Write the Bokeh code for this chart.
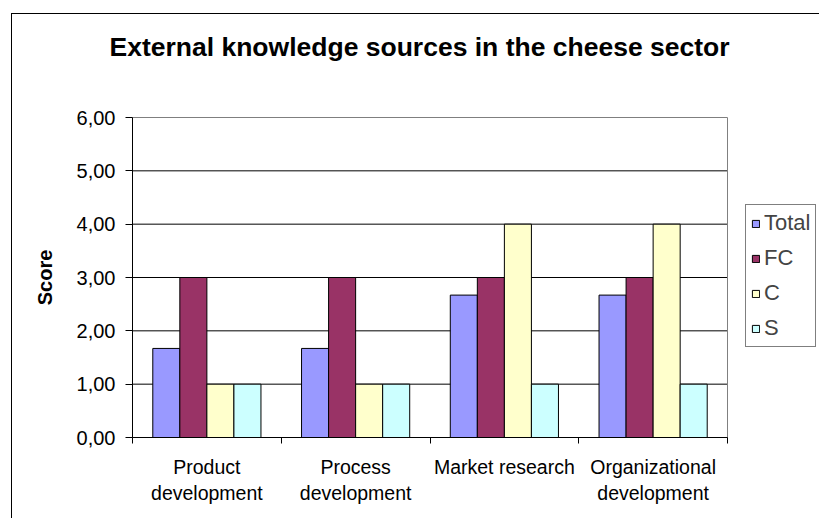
from bokeh.plotting import figure
from bokeh.models import FixedTicker, Legend, LegendItem, LinearAxis
from bokeh.embed import file_html
from bokeh.resources import INLINE

categories = ["Product\ndevelopment", "Process\ndevelopment", "Market research", "Organizational\ndevelopment"]
series = ["Total", "FC", "C", "S"]
total = [1.67, 1.67, 2.67, 2.67]
fc = [3.0, 3.0, 3.0, 3.0]
c = [1.0, 1.0, 4.0, 4.0]
s = [1.0, 1.0, 1.0, 1.0]
colors = ["#9999FF", "#993366", "#FFFFCC", "#CCFFFF"]
y_ticks = [0, 1, 2, 3, 4, 5, 6]
title = "External knowledge sources in the cheese sector"
y_title = "Score"

FONT = "Liberation Sans"
n_cat = len(categories)
n_ser = len(series)
gap = 1.5
w = 1.0 / (n_ser + gap)

# layout (pixels): canvas width, left border, plot-area width
W, H = 808, 505
LEFT, TOP, BOTTOM = 120, 103, 82
PLOT_W = 595
frame_w = W - LEFT
x_end = n_cat * frame_w / PLOT_W


def spacer(size):
    return LinearAxis(ticker=FixedTicker(ticks=[0.5]), major_label_overrides={0.5: ""},
                      major_label_text_font_size="0px",
                      major_tick_out=size, major_tick_in=0,
                      minor_tick_out=0, minor_tick_in=0, major_label_standoff=0,
                      axis_line_color=None, major_tick_line_color=None,
                      minor_tick_line_color=None)


p = figure(width=W, height=H, x_range=(0, x_end), y_range=(0, max(y_ticks)),
           output_backend="svg", toolbar_location=None,
           min_border_left=LEFT, min_border_right=0,
           min_border_top=TOP, min_border_bottom=BOTTOM, title=title)
p.styles = {"margin-left": "11px", "margin-top": "13px",
            "border-left": "1px solid black", "border-top": "1px solid black"}

# space between title and plot area
p.add_layout(spacer(51), "above")

p.title.text_font = FONT
p.title.text_font_size = "26.5px"
p.title.text_font_style = "bold"
p.title.text_color = "black"
p.title.align = "left"
p.title.offset = -23
p.title.standoff = 10

p.outline_line_color = None
p.xgrid.visible = False
p.ygrid.visible = False

# horizontal gridlines across the plot area only
p.segment(x0=[0] * len(y_ticks), x1=[n_cat] * len(y_ticks), y0=y_ticks, y1=y_ticks,
          line_color="black", line_width=1)
# plot area border
p.quad(left=[0], right=[n_cat], bottom=[0], top=[max(y_ticks)],
       fill_color=None, line_color="#808080", line_width=1)

values = [total, fc, c, s]
renderers = []
centers = [i + 0.5 for i in range(n_cat)]
for k, (name, vals, col) in enumerate(zip(series, values, colors)):
    xs = [cx + (k - (n_ser - 1) / 2) * w for cx in centers]
    r = p.vbar(x=xs, top=vals, width=w, bottom=0, fill_color=col,
               line_color="black", line_width=1)
    renderers.append((name, r))

ya = p.left[0]
ya.ticker = FixedTicker(ticks=y_ticks)
ya.major_label_overrides = {t: f"{t:.2f}".replace(".", ",") for t in y_ticks}
ya.major_label_text_font = FONT
ya.major_label_text_font_size = "20px"
ya.major_label_text_color = "black"
ya.major_tick_out = 7
ya.major_tick_in = 0
ya.major_tick_line_color = "black"
ya.minor_tick_line_color = None
ya.axis_line_color = "black"
ya.major_label_standoff = 10
ya.axis_label = y_title
ya.axis_label_text_font = FONT
ya.axis_label_text_font_size = "20px"
ya.axis_label_text_font_style = "bold"
ya.axis_label_text_color = "black"
ya.axis_label_standoff = 18

xa = p.below[0]
xa.bounds = (0, n_cat)
xa.ticker = FixedTicker(ticks=centers, minor_ticks=list(range(n_cat + 1)))
xa.major_label_overrides = {cx: lab for cx, lab in zip(centers, categories)}
xa.major_label_text_font = FONT
xa.major_label_text_font_size = "19.5px"
xa.major_label_text_color = "black"
xa.major_tick_line_color = None
xa.major_tick_out = 0
xa.major_tick_in = 0
xa.minor_tick_out = 6
xa.minor_tick_in = 0
xa.minor_tick_line_color = "black"
xa.axis_line_color = "black"
xa.major_label_standoff = 12

legend = Legend(items=[LegendItem(label=nm, renderers=[r]) for nm, r in renderers],
                location=(613, 90), border_line_color="black", border_line_width=1,
                label_text_font=FONT, label_text_font_size="22px",
                glyph_width=9, glyph_height=9, label_standoff=4,
                spacing=9, padding=5, margin=0, label_height=24,
                background_fill_color="white", background_fill_alpha=1.0)
p.add_layout(legend)

open("out.html", "w").write(file_html(p, INLINE))
